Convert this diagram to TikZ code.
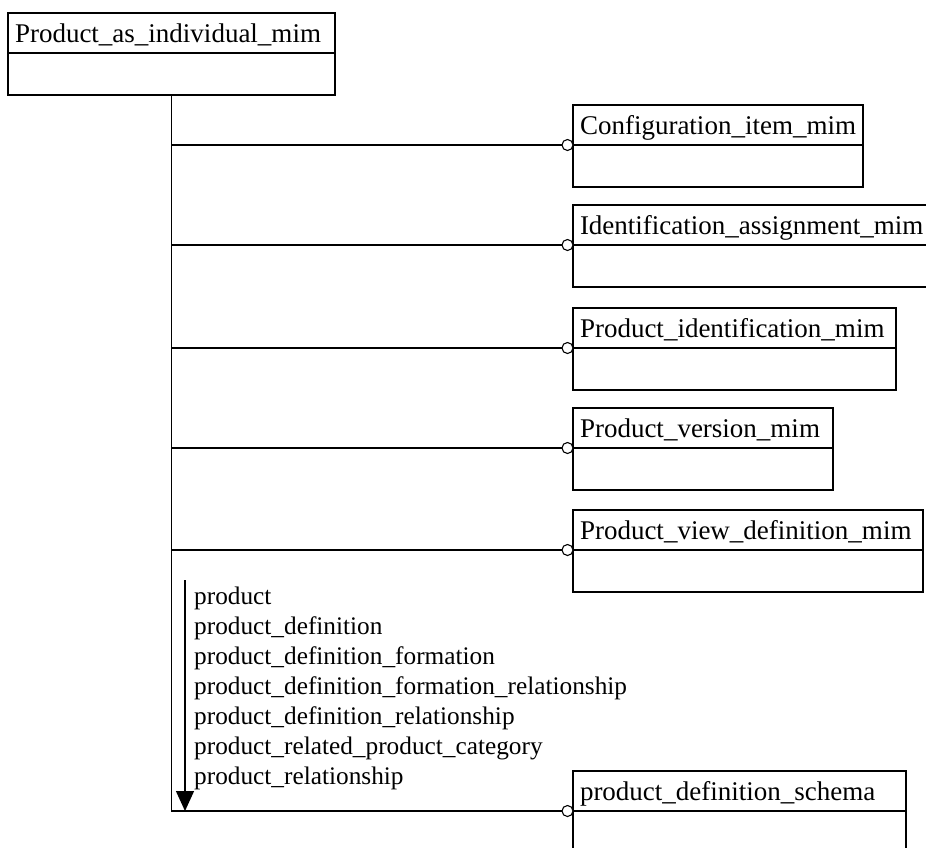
\documentclass[tikz,border=0pt]{standalone}
\usepackage{fontspec}
\setmainfont{Liberation Serif}
\usetikzlibrary{positioning,arrows.meta}

\tikzset{
  mimhead/.style={draw, line width=1.3pt, anchor=north west, outer sep=0pt,
    inner xsep=7pt, inner ysep=0pt, text width=#1, align=left,
    minimum height=40pt, text height=18pt, text depth=0pt,
    font=\fontsize{27}{30}\selectfont},
  mimbody/.style={draw, line width=1.3pt, outer sep=0pt, minimum width=#1, minimum height=42pt},
  ring/.style={circle, draw, line width=1.1pt, fill=white, inner sep=0pt, minimum size=11pt, outer sep=0pt},
  link/.style={line width=1.3pt},
  reflist/.style={anchor=north west, inner sep=0pt, align=left, font=\fontsize{25.3}{30}\selectfont},
}

\begin{document}
\begin{tikzpicture}[x=1pt,y=-1pt]
        \clip (0,0) rectangle (926,847);

        % schema boxes
        \node[mimhead=313pt] (pai) at (8,13) {Product\_as\_individual\_mim};
        \node[mimbody=327pt, below=0pt of pai] (paibody) {};

        \node[mimhead=276pt] (cfg) at (573,105) {Configuration\_item\_mim};
        \node[mimbody=290pt, below=0pt of cfg] (cfgbody) {};
        \node[mimhead=360pt] (ida) at (573,205) {Identification\_assignment\_mim};
        \node[mimbody=374pt, below=0pt of ida] (idabody) {};
        \node[mimhead=309pt] (pid) at (573,308) {Product\_identification\_mim};
        \node[mimbody=323pt, below=0pt of pid] (pidbody) {};
        \node[mimhead=246pt] (pver) at (573,408) {Product\_version\_mim};
        \node[mimbody=260pt, below=0pt of pver] (pverbody) {};
        \node[mimhead=336pt] (pvd) at (573,510) {Product\_view\_definition\_mim};
        \node[mimbody=350pt, below=0pt of pvd] (pvdbody) {};
        \node[mimhead=319pt] (pds) at (573,771) {product\_definition\_schema};
        \node[mimbody=333pt, below=0pt of pds] (pdsbody) {};

        % used-from circles
        \node[ring, left=0pt of cfg.south west] (cfgring) {};
        \node[ring, left=0pt of ida.south west] (idaring) {};
        \node[ring, left=0pt of pid.south west] (pidring) {};
        \node[ring, left=0pt of pver.south west] (pverring) {};
        \node[ring, left=0pt of pvd.south west] (pvdring) {};
        \node[ring, left=0pt of pds.south west] (pdsring) {};

        \coordinate (bend) at (paibody.south |- pdsring.center);
        \coordinate (reftop) at (185,580);

        \draw[link] (paibody.south) -- (bend) -- (pdsring.west);
        \draw[link] (paibody.south |- cfgring) -- (cfgring.west);
        \draw[link] (paibody.south |- idaring) -- (idaring.west);
        \draw[link] (paibody.south |- pidring) -- (pidring.west);
        \draw[link] (paibody.south |- pverring) -- (pverring.west);
        \draw[link] (paibody.south |- pvdring) -- (pvdring.west);

        \draw[line width=1.3pt,-{Triangle[length=20pt,width=18pt]}] (reftop) -- (reftop |- bend);

        \node[reflist] (refs) at (194,587) {product\\
          product\_definition\\
          product\_definition\_formation\\
          product\_definition\_formation\_relationship\\
          product\_definition\_relationship\\
          product\_related\_product\_category\\
          product\_relationship};

\end{tikzpicture}
\end{document}
